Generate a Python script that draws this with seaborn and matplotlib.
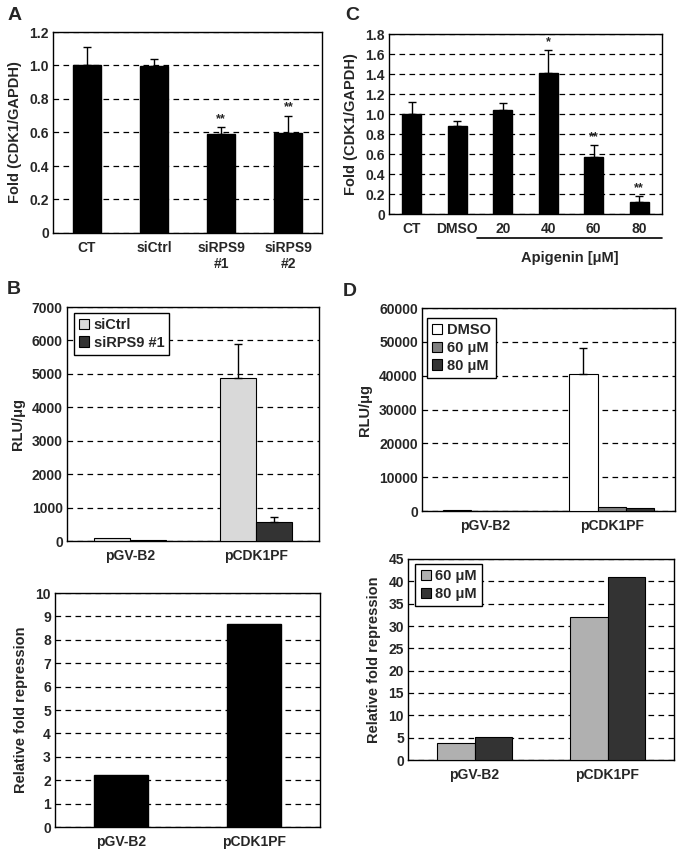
import numpy as np
import pandas as pd
import matplotlib
matplotlib.use("Agg")
import matplotlib.pyplot as plt
from matplotlib.ticker import FixedLocator
import seaborn as sns

# ---------------- data ----------------
a_cats = ["CT", "siCtrl", "siRPS9\n#1", "siRPS9\n#2"]
a_vals = [1.00, 0.995, 0.59, 0.595]
a_errs = [0.11, 0.045, 0.04, 0.105]
a_stars = ["", "", "**", "**"]
a_yticks = [0, 0.2, 0.4, 0.6, 0.8, 1.0, 1.2]
a_yticklabels = ["0", "0.2", "0.4", "0.6", "0.8", "1.0", "1.2"]

c_cats = ["CT", "DMSO", "20", "40", "60", "80"]
c_vals = [1.00, 0.88, 1.04, 1.41, 0.57, 0.12]
c_errs = [0.12, 0.05, 0.065, 0.23, 0.12, 0.06]
c_stars = ["", "", "", "*", "**", "**"]
c_yticks = [0, 0.2, 0.4, 0.6, 0.8, 1.0, 1.2, 1.4, 1.6, 1.8]
c_yticklabels = ["0", "0.2", "0.4", "0.6", "0.8", "1.0", "1.2", "1.4", "1.6", "1.8"]

constructs = ["pGV-B2", "pCDK1PF"]

b1_conds = ["siCtrl", "siRPS9 #1"]
b1_vals = {"siCtrl": [85, 4870], "siRPS9 #1": [30, 570]}
b1_errs = {"siCtrl": [0, 1010], "siRPS9 #1": [0, 150]}
b1_yticks = [0, 1000, 2000, 3000, 4000, 5000, 6000, 7000]

b2_vals = [2.22, 8.68]
b2_yticks = list(range(0, 11))

d1_conds = ["DMSO", "60 μM", "80 μM"]
d1_vals = {"DMSO": [350, 40500], "60 μM": [15, 1200], "80 μM": [10, 900]}
d1_errs = {"DMSO": [0, 7800], "60 μM": [0, 0], "80 μM": [0, 0]}
d1_yticks = [0, 10000, 20000, 30000, 40000, 50000, 60000]

d2_conds = ["60 μM", "80 μM"]
d2_vals = {"60 μM": [3.7, 32.1], "80 μM": [5.2, 40.9]}
d2_yticks = [0, 5, 10, 15, 20, 25, 30, 35, 40, 45]

# ---------------- style ----------------
sns.set_theme(style="white")
plt.rcParams["font.family"] = ["Liberation Sans", "DejaVu Sans"]
plt.rcParams["font.weight"] = "bold"
plt.rcParams["axes.labelweight"] = "bold"
plt.rcParams["axes.edgecolor"] = "black"
plt.rcParams["axes.linewidth"] = 1.0

W, H = 683, 855
fig = plt.figure(figsize=(W / 100, H / 100), dpi=100)
fig.patch.set_facecolor("white")


def px_axes(x0, y0, x1, y1):
    return fig.add_axes([x0 / W, 1 - y1 / H, (x1 - x0) / W, (y1 - y0) / H])


TICK_FS = 10
LAB_FS = 10.5
LEG_FS = 10.5


def style_axes(ax, ncat, yticks, yticklabels=None, ylabel=""):
    ax.set_ylim(yticks[0], yticks[-1])
    ax.set_xlim(-0.5, ncat - 0.5)
    ax.yaxis.set_major_locator(FixedLocator(yticks))
    if yticklabels is not None:
        ax.set_yticklabels(yticklabels)
    ax.yaxis.grid(True, linestyle=(0, (4.5, 3.5)), color="black", lw=0.9)
    ax.xaxis.grid(False)
    ax.set_axisbelow(True)
    ax.tick_params(axis="y", length=0, pad=3, labelsize=TICK_FS)
    ax.tick_params(axis="x", length=0, pad=5.5, labelsize=TICK_FS)
    ax.xaxis.set_minor_locator(FixedLocator(np.arange(0.5, ncat - 0.5, 1.0)))
    ax.tick_params(axis="x", which="minor", length=2.5, direction="in", color="black", width=0.8)
    for s in ax.spines.values():
        s.set_visible(True)
        s.set_color("black")
        s.set_linewidth(1.0)
    ax.set_xlabel("")
    ax.set_ylabel(ylabel, fontsize=LAB_FS, fontweight="bold", labelpad=5)
    for t in ax.get_xticklabels() + ax.get_yticklabels():
        t.set_fontweight("bold")


def legend(ax, labels, colors, anchor):
    from matplotlib.patches import Patch
    handles = [Patch(facecolor=c, edgecolor="black", linewidth=0.8) for c in colors]
    lg = ax.legend(handles, labels, loc="upper left", bbox_to_anchor=anchor,
                   frameon=True, fancybox=False, handlelength=0.7, handleheight=0.7,
                   handletextpad=0.3, borderpad=0.35, labelspacing=0.25,
                   prop={"weight": "bold", "size": LEG_FS}, borderaxespad=0)
    lg.get_frame().set_edgecolor("black")
    lg.get_frame().set_linewidth(1.0)
    lg.get_frame().set_facecolor("white")
    lg.get_frame().set_alpha(1)


def upper_err(ax, xs, ys, es):
    for x, y, e in zip(xs, ys, es):
        if e > 0:
            ax.errorbar([x], [y], yerr=[[0], [e]], fmt="none", ecolor="black",
                        elinewidth=1.0, capsize=2.8, capthick=1.0, zorder=4)


# ---------------- Panel A ----------------
axA = px_axes(53, 32, 322, 233)
dfA = pd.DataFrame({"cat": a_cats, "val": a_vals})
sns.barplot(data=dfA, x="cat", y="val", color="black", saturation=1, width=0.42,
            edgecolor="black", errorbar=None, ax=axA, zorder=3)
style_axes(axA, len(a_cats), a_yticks, a_yticklabels, "Fold (CDK1/GAPDH)")
xs = [p.get_x() + p.get_width() / 2 for p in axA.containers[0]]
upper_err(axA, xs, a_vals, a_errs)
for x, v, e, s in zip(xs, a_vals, a_errs, a_stars):
    if s:
        axA.text(x, v + e + 0.015, s, ha="center", va="bottom", fontsize=9, fontweight="bold")

# ---------------- Panel C ----------------
axC = px_axes(389, 34, 662, 214)
dfC = pd.DataFrame({"cat": c_cats, "val": c_vals})
sns.barplot(data=dfC, x="cat", y="val", color="black", saturation=1, width=0.42,
            edgecolor="black", errorbar=None, ax=axC, zorder=3)
style_axes(axC, len(c_cats), c_yticks, c_yticklabels, "Fold (CDK1/GAPDH)")
xs = [p.get_x() + p.get_width() / 2 for p in axC.containers[0]]
upper_err(axC, xs, c_vals, c_errs)
for x, v, e, s in zip(xs, c_vals, c_errs, c_stars):
    if s:
        axC.text(x, v + e + 0.015, s, ha="center", va="bottom", fontsize=9, fontweight="bold")
trans = axC.get_xaxis_transform()
axC.plot([1.43, 5.5], [-0.133, -0.133], color="black", lw=1.2, transform=trans, clip_on=False)
axC.text(3.48, -0.245, "Apigenin [μM]", transform=trans, ha="center", va="center",
         fontsize=LAB_FS, fontweight="bold")

# ---------------- Panel B top ----------------
axB1 = px_axes(67, 307, 319, 541)
dfB1 = pd.DataFrame([(c, k, b1_vals[k][i]) for k in b1_conds for i, c in enumerate(constructs)],
                    columns=["construct", "cond", "val"])
b1_colors = ["#d9d9d9", "#333333"]
sns.barplot(data=dfB1, x="construct", y="val", hue="cond", order=constructs, hue_order=b1_conds,
            palette=b1_colors, saturation=1, width=0.57, edgecolor="black", linewidth=0.8,
            errorbar=None, ax=axB1, zorder=3, legend=False)
style_axes(axB1, 2, b1_yticks, None, "RLU/μg")
for k, cont in zip(b1_conds, axB1.containers):
    xs = [p.get_x() + p.get_width() / 2 for p in cont]
    upper_err(axB1, xs, b1_vals[k], b1_errs[k])
legend(axB1, b1_conds, b1_colors, (0.028, 0.975))

# ---------------- Panel B bottom ----------------
axB2 = px_axes(55, 593, 320, 827)
dfB2 = pd.DataFrame({"construct": constructs, "val": b2_vals})
sns.barplot(data=dfB2, x="construct", y="val", color="black", saturation=1, width=0.41,
            edgecolor="black", errorbar=None, ax=axB2, zorder=3)
style_axes(axB2, 2, b2_yticks, None, "Relative fold repression")

# ---------------- Panel D top ----------------
axD1 = px_axes(422, 308, 675, 511)
dfD1 = pd.DataFrame([(c, k, d1_vals[k][i]) for k in d1_conds for i, c in enumerate(constructs)],
                    columns=["construct", "cond", "val"])
d1_colors = ["#ffffff", "#808080", "#333333"]
sns.barplot(data=dfD1, x="construct", y="val", hue="cond", order=constructs, hue_order=d1_conds,
            palette=d1_colors, saturation=1, width=0.67, edgecolor="black", linewidth=0.8,
            errorbar=None, ax=axD1, zorder=3, legend=False)
style_axes(axD1, 2, d1_yticks, None, "RLU/μg")
for k, cont in zip(d1_conds, axD1.containers):
    xs = [p.get_x() + p.get_width() / 2 for p in cont]
    upper_err(axD1, xs, d1_vals[k], d1_errs[k])
legend(axD1, d1_conds, d1_colors, (0.02, 0.95))

# ---------------- Panel D bottom ----------------
axD2 = px_axes(408, 559, 674, 760)
dfD2 = pd.DataFrame([(c, k, d2_vals[k][i]) for k in d2_conds for i, c in enumerate(constructs)],
                    columns=["construct", "cond", "val"])
d2_colors = ["#b0b0b0", "#333333"]
sns.barplot(data=dfD2, x="construct", y="val", hue="cond", order=constructs, hue_order=d2_conds,
            palette=d2_colors, saturation=1, width=0.57, edgecolor="black", linewidth=0.8,
            errorbar=None, ax=axD2, zorder=3, legend=False)
style_axes(axD2, 2, d2_yticks, None, "Relative fold repression")
legend(axD2, d2_conds, d2_colors, (0.028, 0.975))

# ---------------- panel letters ----------------
for lbl, (x, y) in {"A": (15, 16), "B": (14, 289), "C": (352, 16), "D": (350, 291)}.items():
    fig.text(x / W, 1 - y / H, lbl, ha="center", va="center", fontsize=14, fontweight="bold")

fig.savefig("out.png", dpi=100, facecolor="white")
